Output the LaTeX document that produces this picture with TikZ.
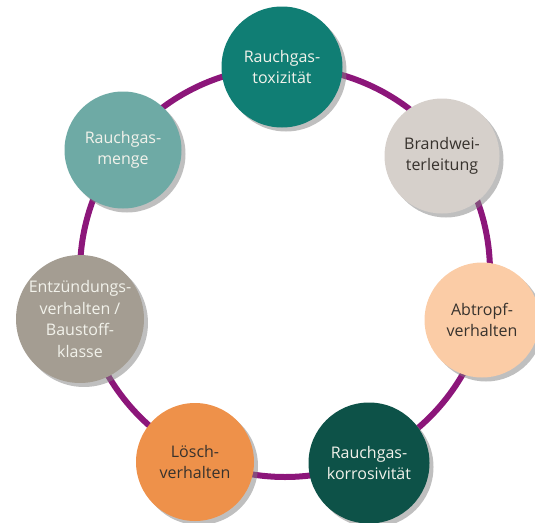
\documentclass[tikz,border=0pt]{standalone}
\usepackage{fontspec}
\setmainfont{Open Sans}
\usetikzlibrary{shadows}

\definecolor{ringpurple}{RGB}{140,22,122}
\definecolor{toxteal}{RGB}{16,126,116}
\definecolor{brandgrey}{RGB}{214,208,203}
\definecolor{tropfpeach}{RGB}{251,204,166}
\definecolor{korrgreen}{RGB}{13,82,72}
\definecolor{loeschorange}{RGB}{238,145,74}
\definecolor{zuendgrey}{RGB}{164,157,146}
\definecolor{mengeteal}{RGB}{110,170,165}
\definecolor{darktext}{RGB}{55,50,45}
\definecolor{lighttext}{RGB}{242,242,235}

\begin{document}
\begin{tikzpicture}[x=1pt,y=-1pt,
    prop/.style={circle, minimum size=118pt, inner sep=0pt, align=center,
        font=\fontsize{16}{21.5}\selectfont,
        drop shadow={shadow xshift=4pt, shadow yshift=-4pt, opacity=0.5}},
    darkprop/.style={prop, text=lighttext},
    lightprop/.style={prop, text=darktext}]
    \useasboundingbox (0,0) rectangle (535,522);

    % ring
    \coordinate (mid) at (285,272);
    \draw [ringpurple, line width=6pt] (mid) circle (205pt);

    % properties round the ring
    \node [darkprop, fill=toxteal, minimum size=121pt] (tox) at (282,67) {Rauchgas-\\toxizität};
    \node [lightprop, fill=brandgrey, minimum size=115pt] (brand) at (442,156) {Brandwei-\\terleitung};
    \node [lightprop, fill=tropfpeach, minimum size=115pt] (tropf) at (482,320) {Abtropf-\\verhalten};
    \node [darkprop, fill=korrgreen, minimum size=121pt] (korr) at (369,463) {Rauchgas-\\korrosivität};
    \node [lightprop, fill=loeschorange] (loesch) at (195,462) {Lösch-\\verhalten};
    \node [darkprop, fill=zuendgrey, minimum size=117pt] (zuend) at (80,319) {Entzündungs-\\verhalten /\\Baustoff-\\klasse};
    \node [darkprop, fill=mengeteal, minimum size=117pt] (menge) at (123,150) {Rauchgas-\\menge};
\end{tikzpicture}
\end{document}
